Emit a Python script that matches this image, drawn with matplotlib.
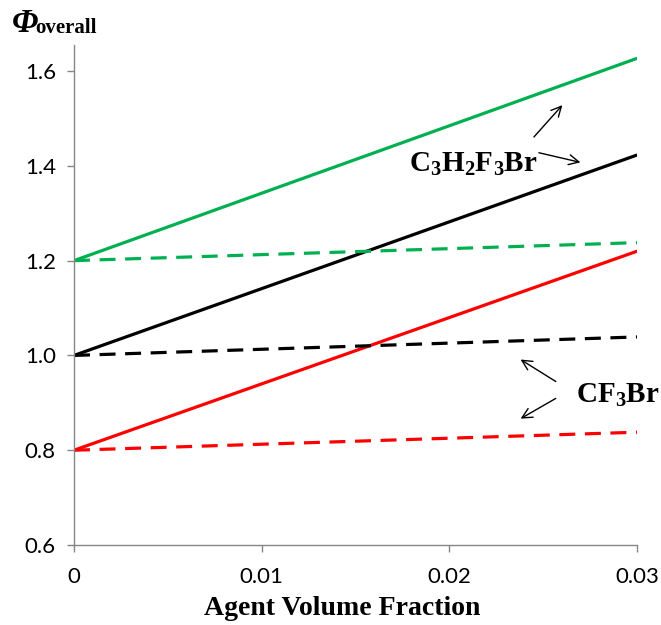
import matplotlib
matplotlib.use("Agg")
import matplotlib.pyplot as plt

fraction = [0.0, 0.03]
c3_green = [1.20, 1.627]
c3_black = [1.00, 1.423]
c3_red = [0.80, 1.220]
cf_green = [1.20, 1.238]
cf_black = [1.00, 1.039]
cf_red = [0.80, 0.838]

xticks = [0, 0.01, 0.02, 0.03]
xtick_labels = ["0", "0.01", "0.02", "0.03"]
yticks = [0.6, 0.8, 1.0, 1.2, 1.4, 1.6]
ytick_labels = ["0.6", "0.8", "1.0", "1.2", "1.4", "1.6"]

GREEN = "#00B050"
RED = "#FF0000"
GRAY = "#868686"
serif = "Liberation Serif"
tickfont = "Lato"

plt.rcParams["mathtext.fontset"] = "custom"
plt.rcParams["mathtext.rm"] = "Liberation Serif:bold"
plt.rcParams["mathtext.bf"] = "Liberation Serif:bold"
plt.rcParams["mathtext.it"] = "Liberation Serif:bold:italic"

fig = plt.figure(figsize=(6.61, 6.25), dpi=100)
ax = fig.add_axes([0.112, 0.128, 0.852, 0.8])

dash = (0, (5, 3))
ax.plot(fraction, c3_green, color=GREEN, lw=2.3, solid_capstyle="butt")
ax.plot(fraction, c3_black, color="black", lw=2.3, solid_capstyle="butt")
ax.plot(fraction, c3_red, color=RED, lw=2.3, solid_capstyle="butt")
ax.plot(fraction, cf_green, color=GREEN, lw=2.3, ls=dash)
ax.plot(fraction, cf_black, color="black", lw=2.3, ls=dash)
ax.plot(fraction, cf_red, color=RED, lw=2.3, ls=dash)

ax.set_xlim(0, 0.03)
ax.set_ylim(0.6, 1.655)
ax.set_xticks(xticks)
ax.set_xticklabels(xtick_labels, fontfamily=tickfont, fontsize=16)
ax.set_yticks(yticks)
ax.set_yticklabels(ytick_labels, fontfamily=tickfont, fontsize=16)
ax.tick_params(axis="both", direction="out", color=GRAY, length=5, width=1)
ax.tick_params(axis="x", pad=11)
ax.tick_params(axis="y", pad=8)
for s in ["top", "right"]:
    ax.spines[s].set_visible(False)
for s in ["left", "bottom"]:
    ax.spines[s].set_color(GRAY)
    ax.spines[s].set_linewidth(1)

ax.set_xlabel("Agent Volume Fraction", fontfamily=serif, fontweight="bold",
              fontsize=20)
ax.xaxis.set_label_coords(0.477, -0.102)

fig.text(0.018, 0.988, "Φ", fontfamily=serif, fontweight="bold", fontstyle="italic",
         fontsize=24, va="top", ha="left")
fig.text(0.054, 0.947, "overall", fontfamily=serif, fontweight="bold",
         fontsize=15, va="baseline", ha="left")

# annotations
ax.text(0.02126, 1.387, r"$\mathrm{C_3H_2F_3Br}$", fontsize=21,
        ha="center", va="baseline")
arrow = dict(arrowstyle="->", color="black", lw=1, mutation_scale=18)
ax.annotate("", xy=(0.02611, 1.5325), xytext=(0.0244, 1.4565), arrowprops=arrow)
ax.annotate("", xy=(0.02712, 1.406), xytext=(0.02462, 1.429), arrowprops=arrow)

ax.text(0.02899, 0.8996, r"$\mathrm{CF_3Br}$", fontsize=21,
        ha="center", va="baseline")
ax.annotate("", xy=(0.02366, 0.9945), xytext=(0.02579, 0.9418), arrowprops=arrow)
ax.annotate("", xy=(0.02366, 0.8637), xytext=(0.02579, 0.9122), arrowprops=arrow)

fig.savefig("out.png", dpi=100)
